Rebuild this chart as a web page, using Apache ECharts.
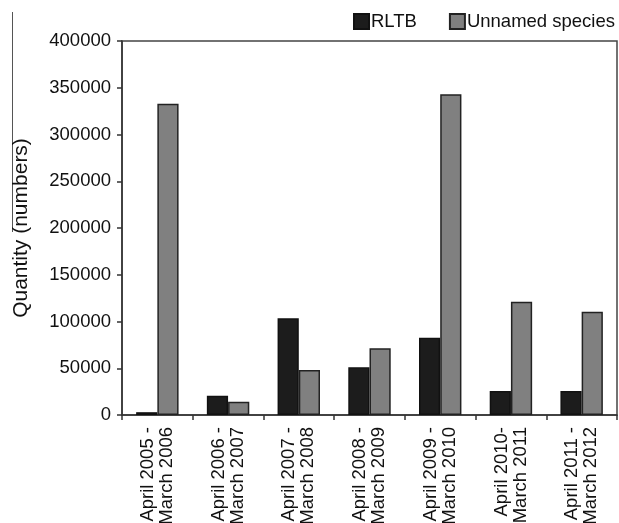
<!DOCTYPE html>
<html>
<head>
<meta charset="utf-8">
<script src="https://cdn.jsdelivr.net/npm/echarts@6/dist/echarts.min.js"></script>
<style>
html,body{margin:0;padding:0;background:#fff;}
#chart{width:619px;height:523px;}
</style>
</head>
<body>
<div id="chart"></div>
<script>
var categories = [
  "April 2005 -\nMarch 2006",
  "April 2006 -\nMarch 2007",
  "April 2007 -\nMarch 2008",
  "April 2008 -\nMarch 2009",
  "April 2009 -\nMarch 2010",
  "April 2010-\nMarch 2011",
  "April 2011 -\nMarch 2012"
];
var rltb = [3000, 20600, 103400, 51000, 82700, 25700, 25700];
var unnamed = [333000, 14200, 48100, 71300, 343000, 121200, 110500];
var seriesNames = ["RLTB", "Unnamed species"];
var yTitle = "Quantity (numbers)";

var FONT = "Liberation Sans, Arial, sans-serif";
var FS = 18.5;
var chart = echarts.init(document.getElementById('chart'), null, {renderer: 'canvas'});
chart.setOption({
  animation: false,
  backgroundColor: '#fff',
  textStyle: {fontFamily: FONT},
  graphic: [{
    type: 'line', shape: {x1: 12.5, y1: 12, x2: 12.5, y2: 232},
    style: {stroke: '#555', lineWidth: 1}
  }],
  legend: {
    right: 4, top: 12, padding: 0,
    itemWidth: 15, itemHeight: 15, itemGap: 32,
    icon: 'rect',
    textStyle: {fontSize: FS, color: '#111', fontFamily: FONT, padding: [0,0,0,-3]},
    data: seriesNames
  },
  grid: {
    left: 122, right: 2, top: 41, bottom: 108,
    containLabel: false,
    outerBoundsMode: 'none',
    show: true, borderColor: '#444', borderWidth: 1.5, backgroundColor: 'transparent'
  },
  xAxis: {
    type: 'category',
    data: categories,
    axisLine: {lineStyle: {color: '#333', width: 1.5}},
    axisTick: {show: true, length: 5, alignWithLabel: false, lineStyle: {color: '#333', width: 1.5}},
    axisLabel: {
      rotate: 90, margin: 12, fontSize: FS, color: '#111', lineHeight: 19,
      fontFamily: FONT, interval: 0
    }
  },
  yAxis: {
    type: 'value',
    min: 0, max: 400000, interval: 50000,
    name: yTitle,
    nameLocation: 'middle',
    nameGap: 90,
    nameRotate: 90,
    nameTextStyle: {fontSize: 21, color: '#111', fontFamily: FONT},
    axisLine: {show: true, lineStyle: {color: '#333', width: 1.5}},
    axisTick: {show: true, length: 5, lineStyle: {color: '#333', width: 1.5}},
    splitLine: {show: false},
    axisLabel: {margin: 11, fontSize: FS, color: '#111', fontFamily: FONT,
      formatter: function (v) { return String(v); }}
  },
  series: [
    {
      name: seriesNames[0], type: 'bar', data: rltb,
      barGap: '0%', barCategoryGap: '40%',
      itemStyle: {color: '#1c1c1c', borderColor: '#111', borderWidth: 1.5}
    },
    {
      name: seriesNames[1], type: 'bar', data: unnamed,
      itemStyle: {color: '#808080', borderColor: '#222', borderWidth: 1.5}
    }
  ]
});
</script>
</body>
</html>
